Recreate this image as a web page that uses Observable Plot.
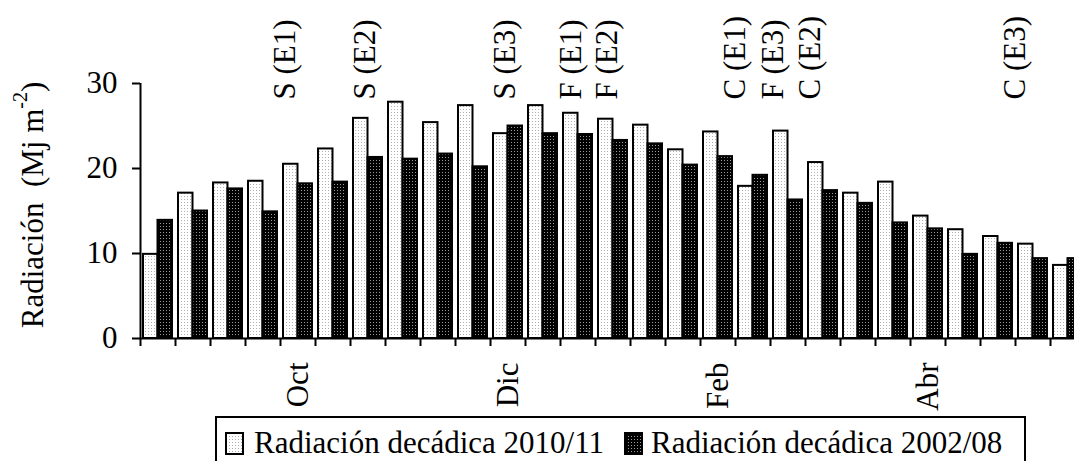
<!DOCTYPE html>
<html>
<head>
<meta charset="utf-8">
<script src="https://cdn.jsdelivr.net/npm/d3@7"></script>
<script src="https://cdn.jsdelivr.net/npm/@observablehq/plot@0.6"></script>
<style>
html, body { margin: 0; padding: 0; background: #fff; overflow: hidden; width: 1074px; height: 461px; }
#chart { position: absolute; left: 0; top: 0; }
#legend {
  position: absolute; left: 215px; top: 416px; width: 811px; height: 52px;
  border: 2px solid #000; box-sizing: border-box; background: #fff;
  display: flex; align-items: flex-start; padding-top: 9px;
  font-family: "Liberation Serif", "Times New Roman", serif; font-size: 31px; line-height: 31px; color: #000;
  white-space: nowrap;
}
#legend .sw { display: block; margin-top: 5px; }
</style>
</head>
<body>
<svg width="0" height="0" style="position:absolute">
  <defs>
    <pattern id="pLight" width="3" height="3" patternUnits="userSpaceOnUse">
      <rect width="3" height="3" fill="#fff"></rect>
      <rect x="1" y="1" width="1" height="1" fill="#b0b0b0"></rect>
    </pattern>
    <pattern id="pDark" width="3" height="3" patternUnits="userSpaceOnUse">
      <rect width="3" height="3" fill="#000"></rect>
      <rect x="1" y="1" width="1" height="1" fill="#9a9a9a"></rect>
    </pattern>
  </defs>
</svg>
<div id="chart"></div>
<div id="legend"></div>
<script>
// Decades (10-day periods), September to May
const decadas = [
  "Sep I","Sep II","Sep III","Oct I","Oct II","Oct III","Nov I","Nov II","Nov III",
  "Dic I","Dic II","Dic III","Ene I","Ene II","Ene III","Feb I","Feb II","Feb III",
  "Mar I","Mar II","Mar III","Abr I","Abr II","Abr III","May I","May II","May III"
];
// Radiación decádica 2010/11 (MJ m-2)
const rad2010 = [9.9,17.1,18.3,18.5,20.5,22.3,25.9,27.8,25.4,27.4,24.1,27.4,26.5,25.8,25.1,22.2,24.3,17.9,24.4,20.7,17.1,18.4,14.4,12.8,12.0,11.1,8.6];
// Radiación decádica 2002/08 (MJ m-2)
const rad2002 = [13.9,15.0,17.6,14.9,18.2,18.4,21.3,21.1,21.7,20.2,25.0,24.1,24.0,23.3,22.9,20.4,21.4,19.2,16.3,17.4,15.9,13.6,12.9,9.9,11.2,9.4,9.4];
// Month tick labels and the decade they are centred on
const monthLabels = ["Oct","Dic","Feb","Abr"];
const monthDecade = ["Oct II","Dic II","Feb II","Abr II"];
// Phenological events (S = siembra, F = floración, C = cosecha) and their decade position
const eventLabels = ["S (E1)","S (E2)","S (E3)","F (E1)","F (E2)","C (E1)","F (E3)","C (E2)","C (E3)"];
const eventDecade = [4.14, 6.43, 10.43, 12.29, 13.34, 17.0, 18.06, 19.14, 25.0];
const yTicks = [0, 10, 20, 30];
const seriesNames = ["Radiación decádica 2010/11", "Radiación decádica 2002/08"];
const yTitle = "Radiación  (Mj m";
const yTitleSup = "-2";

const table = decadas.map((d, i) => ({decada: d, i, a: rad2010[i], b: rad2002[i]}));
const font = '"Liberation Serif", "Times New Roman", serif';

const plot = Plot.plot({
  width: 1074,
  height: 416,
  marginLeft: 140,
  marginRight: 0,
  marginTop: 83,
  marginBottom: 78,
  style: {fontFamily: font, fontSize: "31px", color: "#000", background: "#fff"},
  x: {domain: [0, decadas.length], range: [140, 1085]},
  y: {domain: [0, 30]},
  marks: [
    Plot.rectY(table, {x: "i", interval: 1, y: "a", fill: "url(#pLight)", stroke: "#000", strokeWidth: 2, insetLeft: 3, insetRight: 17.5}),
    Plot.rectY(table, {x: "i", interval: 1, y: "b", fill: "url(#pDark)", stroke: "#000", strokeWidth: 2, insetLeft: 17.5, insetRight: 3}),
    Plot.axisY(yTicks, {tickSize: 8, tickPadding: 15, strokeWidth: 2, fontSize: 31, label: null}),
    Plot.axisX(d3.range(0, decadas.length), {tickSize: 8, tickFormat: () => "", strokeWidth: 2, label: null}),
    Plot.ruleY([0], {strokeWidth: 2}),
    Plot.ruleX([0], {y1: 0, y2: 30, strokeWidth: 2}),
    Plot.text(monthLabels, {x: (d, i) => decadas.indexOf(monthDecade[i]) + 0.5, text: d => d, frameAnchor: "bottom", dy: 24, rotate: -90, textAnchor: "end", lineAnchor: "middle", fontSize: 31}),
    Plot.text(eventLabels, {x: (d, i) => eventDecade[i], text: d => d, frameAnchor: "top", dy: 16, rotate: -90, textAnchor: "start", lineAnchor: "middle", fontSize: 31})
  ]
});

// y-axis title with superscript
const svg = d3.select(plot);
const t = svg.append("text")
  .attr("transform", "translate(32,205) rotate(-90)")
  .attr("text-anchor", "middle")
  .attr("dominant-baseline", "central")
  .attr("font-size", 31)
  .attr("fill", "#000");
t.append("tspan").text(yTitle);
t.append("tspan").attr("font-size", 20).attr("dy", -12).text(yTitleSup);
t.append("tspan").attr("dy", 12).text(")");

document.getElementById("chart").appendChild(plot);

// Legend
const legend = d3.select("#legend");
const fills = ["url(#pLight)", "url(#pDark)"];
seriesNames.forEach((name, k) => {
  const sw = legend.append("svg").attr("class", "sw").attr("width", 19).attr("height", 23)
    .style("margin-left", k === 0 ? "8px" : "20px").style("margin-right", k === 0 ? "10px" : "8px");
  sw.append("rect").attr("x", 1).attr("y", 1).attr("width", 17).attr("height", 21)
    .attr("fill", fills[k]).attr("stroke", "#000").attr("stroke-width", 2);
  legend.append("span").text(name);
});
</script>
</body>
</html>
